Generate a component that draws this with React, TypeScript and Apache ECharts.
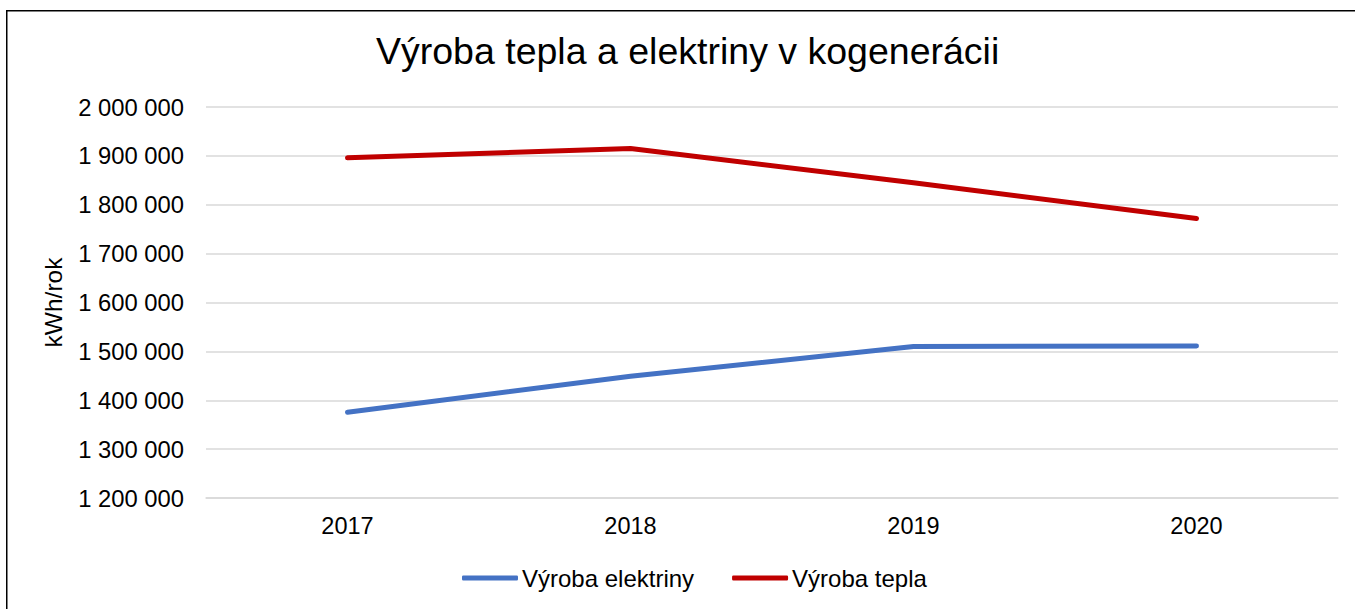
import React, { useEffect, useRef } from "react";
import * as echarts from "echarts";

const categories = ["2017", "2018", "2019", "2020"];
const elektrina = [1375500, 1449000, 1510000, 1511000];
const teplo = [1896000, 1915000, 1845000, 1772000];
const seriesNames = ["Výroba elektriny", "Výroba tepla"];
const titleText = "Výroba tepla a elektriny v kogenerácii";
const yAxisName = "kWh/rok";

const FONT = "'Liberation Sans', Arial, sans-serif";

function fmt(v: number): string {
  return String(Math.round(v)).replace(/\B(?=(\d{3})+(?!\d))/g, " ");
}

export default function App() {
  const ref = useRef<HTMLDivElement>(null);
  useEffect(() => {
    if (!ref.current) return;
    const chart = echarts.init(ref.current, undefined, { renderer: "svg" });
    chart.setOption({
      animation: false,
      backgroundColor: "#ffffff",
      textStyle: { fontFamily: FONT },
      title: {
        text: titleText,
        left: 376,
        top: 32,
        padding: 0,
        textStyle: { fontFamily: FONT, fontSize: 37.5, fontWeight: "normal", color: "#000000" },
      },
      graphic: [
        {
          type: "rect",
          shape: { x: 6.75, y: 10.75, width: 3000, height: 3000 },
          style: { fill: "none", stroke: "#000000", lineWidth: 1.5 },
          silent: true,
        },
      ],
      legend: {
        left: 462,
        top: 566,
        padding: 0,
        itemWidth: 56,
        itemHeight: 5,
        itemGap: 38,
        icon: "roundRect",
        textStyle: { fontFamily: FONT, fontSize: 24, color: "#000000", padding: [0, 0, 0, -1] },
        data: seriesNames,
      },
      grid: { left: 206, right: 17, top: 107, height: 391, containLabel: false },
      xAxis: {
        type: "category",
        data: categories,
        boundaryGap: true,
        axisLine: { show: true, lineStyle: { color: "#d9d9d9", width: 1.5 } },
        axisTick: { show: false },
        axisLabel: { fontFamily: FONT, fontSize: 23.5, color: "#000000", margin: 16 },
      },
      yAxis: {
        type: "value",
        min: 1200000,
        max: 2000000,
        interval: 100000,
        name: yAxisName,
        nameLocation: "middle",
        nameRotate: 90,
        nameGap: 140,
        nameTextStyle: { fontFamily: FONT, fontSize: 24.5, color: "#000000" },
        axisLine: { show: false },
        axisTick: { show: false },
        splitLine: { lineStyle: { color: "#d9d9d9", width: 1.5 } },
        axisLabel: {
          fontFamily: FONT,
          fontSize: 23.8,
          color: "#000000",
          margin: 22,
          formatter: (v: number) => fmt(v),
        },
      },
      series: [
        {
          name: seriesNames[0],
          type: "line",
          data: elektrina,
          showSymbol: false,
          symbol: "none",
          lineStyle: { color: "#4472C4", width: 5, cap: "round", join: "round" },
          itemStyle: { color: "#4472C4" },
        },
        {
          name: seriesNames[1],
          type: "line",
          data: teplo,
          showSymbol: false,
          symbol: "none",
          lineStyle: { color: "#C00000", width: 5, cap: "round", join: "round" },
          itemStyle: { color: "#C00000" },
        },
      ],
    });
    return () => chart.dispose();
  }, []);
  return (
    <div
      ref={ref}
      style={{ position: "absolute", left: 0, top: 0, width: 1355, height: 609 }}
    />
  );
}
